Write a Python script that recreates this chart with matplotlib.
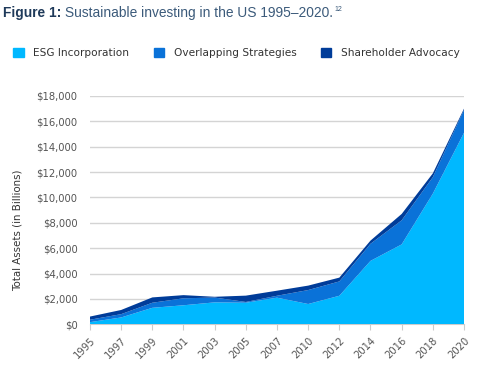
import numpy as np
import matplotlib.pyplot as plt
from matplotlib.patches import Patch
from matplotlib.ticker import FuncFormatter

years = ["1995", "1997", "1999", "2001", "2003", "2005", "2007",
         "2010", "2012", "2014", "2016", "2018", "2020"]
esg = [170, 540, 1300, 1500, 1730, 1700, 2100, 1600, 2250, 5000, 6300, 10300, 15100]
overlap = [190, 260, 400, 550, 380, 60, 150, 1100, 1130, 1350, 1900, 1300, 1800]
advocacy = [250, 330, 420, 250, 60, 500, 400, 350, 300, 250, 500, 300, 100]

c_esg = "#00b8ff"
c_over = "#0a72d8"
c_adv = "#003c99"
label_col = "#555555"

fig = plt.figure(figsize=(4.85, 3.65), dpi=100)
ax = fig.add_axes([90 / 485, 1 - 324.3 / 365, 374 / 485, 228.3 / 365])

x = np.arange(len(years))
ax.stackplot(x, esg, overlap, advocacy, colors=[c_esg, c_over, c_adv],
             linewidth=0, zorder=3)

ax.set_xlim(0, len(years) - 1)
ax.set_ylim(0, 18000)
ax.set_yticks(np.arange(0, 18001, 2000))
ax.yaxis.set_major_formatter(FuncFormatter(lambda v, p: f"${v:,.0f}"))
ax.grid(axis="y", color="#d4d4d4", linewidth=1, zorder=0)
ax.set_xticks(x)
ax.set_xticklabels(years, rotation=45, ha="right", va="top",
                   rotation_mode="anchor")

for s in ["top", "right", "left"]:
    ax.spines[s].set_visible(False)
ax.spines["bottom"].set_color("#cccccc")
ax.tick_params(axis="y", length=0, pad=9, labelsize=7.2, labelcolor=label_col)
ax.tick_params(axis="x", length=4, color="#cccccc", pad=4, labelsize=7.2,
               labelcolor=label_col)

fig.text(0.037, 0.37, "Total Assets (in Billions)", rotation=90,
         ha="center", va="center", fontsize=7.4, color="#333333")

# title, pieces chained one after another
t1 = fig.text(0.006, 0.965, "Figure 1:", fontsize=9.9, fontweight="bold",
              color="#1f3a5a", ha="left", va="center", family="Liberation Sans")
t2 = fig.text(0, 0, " Sustainable investing in the US 1995\u20132020.",
              fontsize=9.9, color="#3b5a7a", ha="left", va="center",
              family="Liberation Sans")
fig.canvas.draw()
r = fig.canvas.get_renderer()
bb = t1.get_window_extent(r)
t2.set_position(((bb.x1) / fig.bbox.width, 0.965))
bb2 = t2.get_window_extent(r)
fig.text(bb2.x1 / fig.bbox.width + 0.002, 0.975, "12", fontsize=5,
         color="#3b5a7a", ha="left", va="center", family="Liberation Sans")

handles = [Patch(color=c_esg), Patch(color=c_over), Patch(color=c_adv)]
fig.legend(handles, ["ESG Incorporation", "Overlapping Strategies",
                     "Shareholder Advocacy"],
           loc="center left", bbox_to_anchor=(0.008, 0.855), ncol=3,
           frameon=False, fontsize=7.6, handlelength=1.0, handleheight=1.0,
           handletextpad=0.9, columnspacing=2.3, labelcolor="#333333")

fig.savefig("out.png", dpi=100)
